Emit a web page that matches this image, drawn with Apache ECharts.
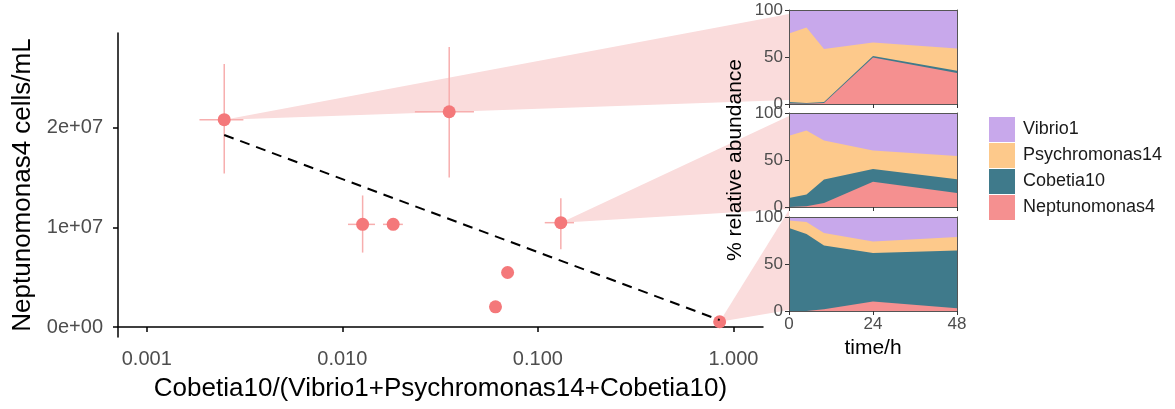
<!DOCTYPE html>
<html><head><meta charset="utf-8">
<script src="https://cdn.jsdelivr.net/npm/echarts@6/dist/echarts.min.js"></script>
<style>html,body{margin:0;padding:0;background:#fff}#c{width:1175px;height:409px}</style>
</head><body><div id="c"></div>
<script>
const FONT = 'Liberation Sans, Arial, Helvetica, sans-serif';

// ---- main scatter data ----
const ratio   = [0.00249, 0.0127, 0.0182, 0.0352, 0.131, 0.070, 0.0607, 0.850];
const cells   = [2.08e7, 1.03e7, 1.03e7, 2.16e7, 1.047e7, 0.547e7, 0.203e7, 0.053e7];
const ratioLo = [0.00186, 0.01069, 0.01614, 0.0235, 0.1084, 0.070, 0.0607, 0.850];
const ratioHi = [0.00312, 0.01469, 0.0204, 0.0471, 0.153, 0.070, 0.0607, 0.850];
const cellsLo = [1.54e7, 0.747e7, 1.03e7, 1.50e7, 0.78e7, 0.547e7, 0.203e7, 0.053e7];
const cellsHi = [2.64e7, 1.32e7, 1.03e7, 2.81e7, 1.293e7, 0.547e7, 0.203e7, 0.053e7];
const fitX = [0.00249, 0.850];
const fitY = [1.927e7, 0.07e7];
const xTickValues = [0.001, 0.01, 0.1, 1];
const xTickLabels = ['0.001', '0.010', '0.100', '1.000'];
const yTickValues = [0, 1e7, 2e7];
const yTickLabels = ['0e+00', '1e+07', '2e+07'];
const insetPoint = [0, 4, 7]; // which scatter point each inset panel belongs to

// ---- inset panels (rows = panel 1..3) ----
const time = [0, 5, 10, 24, 48];
const timeTicks = [0, 24, 48];
const abundTicks = [0, 50, 100];
const taxa = ['Vibrio1', 'Psychromonas14', 'Cobetia10', 'Neptunomonas4'];
const taxaColors = ['#C8A8EB', '#FDC98B', '#3F7A8B', '#F59090'];
const vibrio1 = [[25, 18.5, 41.5, 34.5, 41], [24.3, 18.6, 29.3, 40, 45.7], [3.6, 5.3, 17.1, 26, 21.4]];
const psychromonas14 = [[73, 80.5, 56.5, 14.5, 23.5], [66.1, 68.2, 41.4, 19.6, 24.7], [8.1, 12.8, 13.1, 12.4, 14.2]];
const cobetia10 = [[1.5, 0.7, 1, 1.5, 2.5], [9.6, 12.5, 25, 13.6, 14.6], [88.3, 81.9, 68, 51.6, 61.6]];
const neptunomonas4 = [[0.5, 0.3, 1, 49.5, 33], [0, 0.7, 4.3, 26.8, 15], [0, 0, 1.8, 10, 2.8]];

const taxaValues = [vibrio1, psychromonas14, cobetia10, neptunomonas4];

function lookupLabel(vals, labels, v) {
  for (let i = 0; i < vals.length; i++) {
    if (Math.abs(v - vals[i]) <= Math.abs(vals[i]) * 1e-6 + 1e-12) return labels[i];
  }
  return '';
}

const chart = echarts.init(document.getElementById('c'));

const panelTops = [10, 113, 217];
const grids = [{ left: 118, top: 33, width: 645, height: 304 }];
panelTops.forEach(t => grids.push({ left: 789, top: t, width: 168, height: 94 }));

const xAxes = [{
  type: 'log', gridIndex: 0, min: 0.0007129, max: 1.4158, logBase: 10,
  axisLine: { show: true, lineStyle: { color: '#000', width: 1.5 } },
  axisTick: { show: true, length: 5, lineStyle: { color: '#000', width: 1.5 }, customValues: xTickValues },
  axisLabel: { customValues: xTickValues, formatter: v => lookupLabel(xTickValues, xTickLabels, v),
    color: '#4D4D4D', fontSize: 20, fontFamily: FONT, margin: 12 },
  splitLine: { show: false }, minorSplitLine: { show: false },
  name: 'Cobetia10/(Vibrio1+Psychromonas14+Cobetia10)', nameLocation: 'middle', nameGap: 39,
  nameTextStyle: { color: '#000', fontSize: 26, fontFamily: FONT }
}];
const yAxes = [{
  type: 'value', gridIndex: 0, min: -1e6, max: 2.95e7,
  axisLine: { show: true, lineStyle: { color: '#000', width: 1.5 } },
  axisTick: { show: true, length: 5, lineStyle: { color: '#000', width: 1.5 }, customValues: yTickValues },
  axisLabel: { customValues: yTickValues, formatter: v => lookupLabel(yTickValues, yTickLabels, v),
    color: '#4D4D4D', fontSize: 20, fontFamily: FONT, margin: 15 },
  splitLine: { show: false },
  name: 'Neptunomonas4 cells/mL', nameLocation: 'middle', nameGap: 80,
  nameTextStyle: { color: '#000', fontSize: 26, fontFamily: FONT }
}];
const BORDER = '#555555';
for (let k = 0; k < 3; k++) {
  xAxes.push({
    type: 'value', gridIndex: k + 1, min: 0, max: 48, z: 5,
    axisLine: { show: true, onZero: false, lineStyle: { color: BORDER, width: 1 } },
    axisTick: { show: true, length: 4, lineStyle: { color: '#333', width: 1 }, customValues: timeTicks },
    axisLabel: { show: k === 2, customValues: timeTicks, color: '#4D4D4D', fontSize: 17, fontFamily: FONT, margin: 5 },
    splitLine: { show: false },
    name: k === 2 ? 'time/h' : '', nameLocation: 'middle', nameGap: 27,
    nameTextStyle: { color: '#000', fontSize: 21, fontFamily: FONT }
  });
  yAxes.push({
    type: 'value', gridIndex: k + 1, min: 0, max: 100, z: 5,
    axisLine: { show: true, onZero: false, lineStyle: { color: BORDER, width: 1 } },
    axisTick: { show: true, length: 4, lineStyle: { color: '#333', width: 1 }, customValues: abundTicks },
    axisLabel: { customValues: abundTicks, color: '#4D4D4D', fontSize: 17, fontFamily: FONT, margin: 6 },
    splitLine: { show: false },
    name: k === 1 ? '% relative abundance' : '', nameLocation: 'middle', nameGap: 43,
    nameTextStyle: { color: '#000', fontSize: 21, fontFamily: FONT }
  });
}
for (let k = 0; k < 3; k++) {
  xAxes.push({ type: 'value', gridIndex: k + 1, min: 0, max: 48, position: 'top', z: 5,
    axisLine: { show: true, onZero: false, lineStyle: { color: BORDER, width: 1 } },
    axisTick: { show: false }, axisLabel: { show: false }, splitLine: { show: false } });
  yAxes.push({ type: 'value', gridIndex: k + 1, min: 0, max: 100, position: 'right', z: 5,
    axisLine: { show: true, onZero: false, lineStyle: { color: BORDER, width: 1 } },
    axisTick: { show: false }, axisLabel: { show: false }, splitLine: { show: false } });
}

const series = [];
series.push({
  type: 'custom', xAxisIndex: 0, yAxisIndex: 0, z: 2, silent: true,
  data: ratio.map((r, i) => [r, cells[i], ratioLo[i], ratioHi[i], cellsLo[i], cellsHi[i]]),
  encode: { x: 0, y: 1 },
  renderItem(params, api) {
    const x = api.value(0), y = api.value(1);
    const h1 = api.coord([api.value(2), y]), h2 = api.coord([api.value(3), y]);
    const v1 = api.coord([x, api.value(4)]), v2 = api.coord([x, api.value(5)]);
    const style = { stroke: '#F7AEAE', lineWidth: 1.5 };
    return { type: 'group', children: [
      { type: 'line', shape: { x1: h1[0], y1: h1[1], x2: h2[0], y2: h2[1] }, style },
      { type: 'line', shape: { x1: v1[0], y1: v1[1], x2: v2[0], y2: v2[1] }, style }
    ] };
  }
});
series.push({
  type: 'scatter', xAxisIndex: 0, yAxisIndex: 0, z: 3, symbolSize: 13,
  itemStyle: { color: '#F4787A', opacity: 1 },
  data: ratio.map((r, i) => [r, cells[i]])
});
series.push({
  type: 'line', xAxisIndex: 0, yAxisIndex: 0, z: 4, symbol: 'none',
  lineStyle: { color: '#000', width: 2, type: [10, 7] },
  data: fitX.map((x, i) => [x, fitY[i]])
});
// stacked areas: each band drawn as the cumulative total from the bottom,
// top-most taxon first so lower bands paint over it.
for (let k = 0; k < 3; k++) {
  for (let j = 0; j < taxa.length; j++) {
    const cum = time.map((t, i) => {
      let s = 0;
      for (let m = j; m < taxa.length; m++) s += taxaValues[m][k][i];
      return [t, s];
    });
    series.push({
      type: 'line', name: taxa[j], xAxisIndex: k + 1, yAxisIndex: k + 1,
      symbol: 'none', smooth: false, z: 2, silent: true,
      lineStyle: { width: 0 }, itemStyle: { color: taxaColors[j] },
      areaStyle: { color: taxaColors[j], opacity: 1, origin: 'start' },
      data: cum
    });
  }
}

chart.setOption({
  animation: false,
  backgroundColor: '#fff',
  grid: grids,
  xAxis: xAxes,
  yAxis: yAxes,
  legend: {
    orient: 'vertical', left: 984, top: 112, itemWidth: 26, itemHeight: 25, itemGap: 1,
    icon: 'rect', data: taxa, selectedMode: false,
    textStyle: { color: '#1a1a1a', fontSize: 18, fontFamily: FONT, padding: [0, 0, 0, 3] }
  },
  series
});

// callout wedges linking scatter points to the inset panels
const wedgeTop = [95.7, 96.8, 107.4];
const wedgeBottom = [4.3, -2.1, 1.1];
const graphics = insetPoint.map((pi, k) => {
  const tip = chart.convertToPixel({ xAxisIndex: 0, yAxisIndex: 0 }, [ratio[pi], cells[pi]]);
  const a = chart.convertToPixel({ xAxisIndex: k + 1, yAxisIndex: k + 1 }, [0, wedgeTop[k]]);
  const b = chart.convertToPixel({ xAxisIndex: k + 1, yAxisIndex: k + 1 }, [0, wedgeBottom[k]]);
  return { type: 'polygon', z: -1, silent: true,
    shape: { points: [tip, a, b] }, style: { fill: '#FADCDC' } };
});
chart.setOption({ graphic: graphics });
</script></body></html>
